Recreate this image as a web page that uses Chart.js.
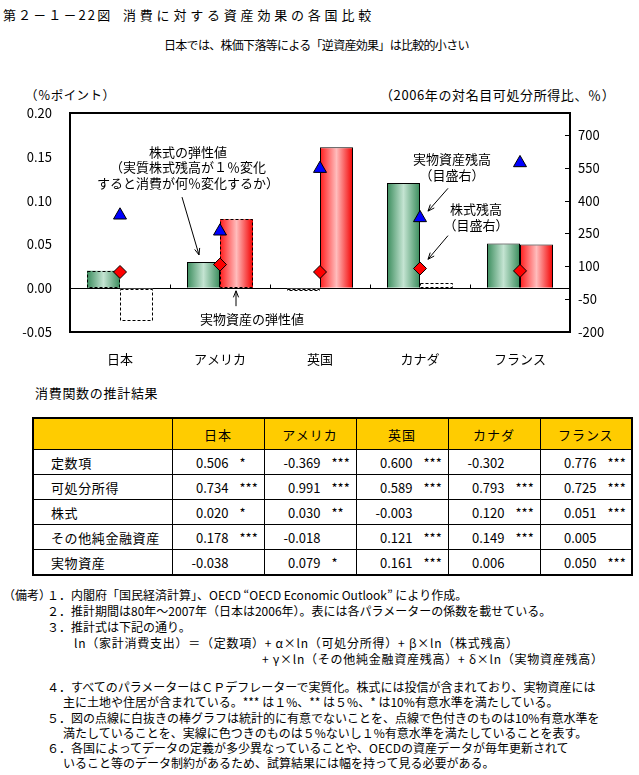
<!DOCTYPE html>
<html lang="ja">
<head>
<meta charset="utf-8">
<script src="https://cdn.jsdelivr.net/npm/chart.js@4.4.0/dist/chart.umd.min.js"></script>
<style>
  body { margin: 0; background: #fff; }
  #page { position: relative; width: 639px; height: 775px; overflow: hidden;
          font-family: "Noto Sans CJK JP", sans-serif; color: #000; }
  .t { position: absolute; white-space: nowrap; line-height: 16px; }
  #wrap { position: absolute; left: 0; top: 60px; width: 639px; height: 310px; }
  #tbl { position: absolute; left: 32px; top: 417px; border-collapse: collapse;
         border: 2px solid #000; font-size: 13px; }
  #tbl td { border: 1px solid #000; padding: 0; height: 24px; white-space: nowrap; }
  #tbl tr.head td { background: #ffcc00; height: 30px; text-align: center; letter-spacing: 1px; }
  #tbl td.lab { padding-left: 17px; letter-spacing: 0.6px; }
  #tbl .num { display: inline-block; width: 56px; text-align: right; }
  #tbl .sig { margin-left: 11px; }
  .note { font-size: 12px; }
  .formula { letter-spacing: 0.75px; }
</style>
</head>
<body>
<div id="page">
  <div class="t" style="left:3px;top:7px;font-size:13px;letter-spacing:2.1px;">第２－１－22図</div>
  <div class="t" style="left:123px;top:7px;font-size:13px;letter-spacing:3.8px;">消費に対する資産効果の各国比較</div>
  <div class="t" style="left:164px;top:37px;font-size:12px;letter-spacing:-0.7px;">日本では、株価下落等による「逆資産効果」は比較的小さい</div>
  <div class="t" style="left:25px;top:87px;font-size:12.5px;letter-spacing:0.4px;">（％ポイント）</div>
  <div class="t" style="left:380px;top:87px;font-size:13px;letter-spacing:0.6px;">（2006年の対名目可処分所得比、％）</div>

  <div id="wrap"><canvas id="chart" width="639" height="310"></canvas></div>

  <div class="t" style="left:35px;top:385px;font-size:13px;letter-spacing:0.7px;">消費関数の推計結果</div>
  <table id="tbl"></table>

  <div id="notes"></div>
</div>

<script>
const countries = ['日本', 'アメリカ', '英国', 'カナダ', 'フランス'];

// 株式の弾性値 / 実物資産の弾性値 (左目盛)
const stockElast = [0.020, 0.030, -0.003, 0.120, 0.051];
const stockSig = ['*', '**', '', '***', '***'];
const realElast = [-0.038, 0.079, 0.161, 0.006, 0.050];
const realSig = ['', '*', '***', '', '***'];

// 残高 (右目盛, 2006年の対名目可処分所得比)
const realAssetStock = [333, 260, 546, 321, 572];
const equityStock = [74, 108, 74, 90, 79];

// 推計結果の表
const rowNames = ['定数項', '可処分所得', '株式', 'その他純金融資産', '実物資産'];
const constCoef = [0.506, -0.369, 0.600, -0.302, 0.776];
const constSig = ['*', '***', '***', '', '***'];
const incomeCoef = [0.734, 0.991, 0.589, 0.793, 0.725];
const incomeSig = ['***', '***', '***', '***', '***'];
const otherCoef = [0.178, -0.018, 0.121, 0.149, 0.005];
const otherSig = ['***', '', '***', '***', ''];

// 目盛
const leftTickValues = [-0.05, 0, 0.05, 0.10, 0.15, 0.20];
const rightTickValues = [-200, -50, 100, 250, 400, 550, 700];
const leftRange = [-0.05, 0.20];
const rightRange = [-200, 800];

const FONT = '"Noto Sans CJK JP", sans-serif';

// --- 表 ---
const tbl = document.getElementById('tbl');
let html = '<colgroup><col style="width:139px">' + '<col style="width:92px">'.repeat(5) + '</colgroup>';
html += '<tr class="head"><td></td>' + countries.map(c => '<td>' + c + '</td>').join('') + '</tr>';
const rows = [
  [constCoef, constSig], [incomeCoef, incomeSig], [stockElast, stockSig],
  [otherCoef, otherSig], [realElast, realSig]
];
rows.forEach(([vals, sigs], r) => {
  html += '<tr><td class="lab">' + rowNames[r] + '</td>';
  vals.forEach((v, i) => {
    html += '<td><span class="num">' + v.toFixed(3) + '</span><span class="sig">' + sigs[i] + '</span></td>';
  });
  html += '</tr>';
});
tbl.innerHTML = html;

// --- 備考 ---
const noteLines = [
  [3, 595, '（備考）', ''],
  [47, 595, '１．内閣府「国民経済計算」、OECD “OECD Economic Outlook” により作成。', ''],
  [47, 611, '２．推計期間は80年～2007年（日本は2006年）。表には各パラメーターの係数を載せている。', ''],
  [47, 627, '３．推計式は下記の通り。', ''],
  [74, 643, 'ln（家計消費支出）＝（定数項）+ α×ln（可処分所得）+ β×ln（株式残高）', 'formula'],
  [262, 659, '+ γ×ln（その他純金融資産残高）+ δ×ln（実物資産残高）', 'formula'],
  [47, 687, '４．すべてのパラメーターはＣＰデフレーターで実質化。株式には投信が含まれており、実物資産には', ''],
  [63, 702, '主に土地や住居が含まれている。*** は１%、** は５%、* は10%有意水準を満たしている。', ''],
  [47, 718, '５．図の点線に白抜きの棒グラフは統計的に有意でないことを、点線で色付きのものは10%有意水準を', ''],
  [63, 733, '満たしていることを、実線に色つきのものは５%ないし１%有意水準を満たしていることを表す。', ''],
  [47, 748, '６．各国によってデータの定義が多少異なっていることや、OECDの資産データが毎年更新されて', ''],
  [63, 763, 'いること等のデータ制約があるため、試算結果には幅を持って見る必要がある。', '']
];
document.getElementById('notes').innerHTML = noteLines.map(([x, y, s, cls]) =>
  '<div class="t note ' + cls + '" style="left:' + x + 'px;top:' + (y - 8) + 'px;">' + s + '</div>').join('');

// --- 注記（x: カテゴリ位置, y: 左目盛の値） ---
const labels = [
  { x: 0.68, y: 0.155, text: '株式の弾性値' },
  { x: 0.68, y: 0.138, text: '（実質株式残高が１％変化' },
  { x: 0.68, y: 0.120, text: 'すると消費が何％変化するか）' },
  { x: 1.32, y: -0.035, text: '実物資産の弾性値' },
  { x: 3.32, y: 0.147, text: '実物資産残高' },
  { x: 3.32, y: 0.129, text: '（目盛右）' },
  { x: 3.56, y: 0.090, text: '株式残高' },
  { x: 3.56, y: 0.072, text: '（目盛右）' }
];
const arrows = [
  [0.62, 0.104, 0.79, 0.038],
  [1.16, -0.0205, 1.16, -0.003],
  [3.28, 0.114, 3.08, 0.088],
  [3.28, 0.060, 3.08, 0.033]
];

const shades = {
  green: ['#3a8c5c', '#c4e4d2', '#3a8c5c'],
  red: ['#ff1c1c', '#ffbcbc', '#f40000']
};

function drawArrow(ctx, x1, y1, x2, y2) {
  const a = Math.atan2(y2 - y1, x2 - x1);
  const len = 7, spread = 0.38;
  ctx.beginPath();
  ctx.moveTo(x1, y1);
  ctx.lineTo(x2, y2);
  ctx.moveTo(x2 - len * Math.cos(a - spread), y2 - len * Math.sin(a - spread));
  ctx.lineTo(x2, y2);
  ctx.lineTo(x2 - len * Math.cos(a + spread), y2 - len * Math.sin(a + spread));
  ctx.stroke();
}

const extras = {
  id: 'extras',
  beforeDatasetsDraw(chart) {
    const ctx = chart.ctx;
    chart.data.datasets.forEach((ds, di) => {
      if (ds.type !== 'bar') return;
      chart.getDatasetMeta(di).data.forEach((el, i) => {
        let bg = '#ffffff';
        if (ds.sig[i] !== '') {
          const st = shades[ds.shade];
          bg = ctx.createLinearGradient(el.x - el.width / 2, 0, el.x + el.width / 2, 0);
          bg.addColorStop(0, st[0]);
          bg.addColorStop(0.5, st[1]);
          bg.addColorStop(1, st[2]);
        }
        el.options = Object.assign({}, el.options, { backgroundColor: bg });
      });
    });
  },
  afterDatasetDraw(chart, args) {
    const ds = chart.data.datasets[args.index];
    if (ds.type !== 'bar') return;
    const ctx = chart.ctx;
    ctx.save();
    ctx.strokeStyle = '#000';
    ctx.lineWidth = 1;
    ctx.setLineDash([3, 2]);
    args.meta.data.forEach((el, i) => {
      if (ds.sig[i].length > 1) return;
      const x0 = Math.round(el.x - el.width / 2) + 0.5;
      const x1 = Math.round(el.x + el.width / 2) - 0.5;
      const y0 = Math.round(Math.min(el.y, el.base)) + 0.5;
      const y1 = Math.round(Math.max(el.y, el.base)) - 0.5;
      ctx.strokeRect(x0, y0, x1 - x0, Math.max(y1 - y0, 1));
    });
    ctx.restore();
  },
  afterDraw(chart) {
    const ctx = chart.ctx;
    const ca = chart.chartArea;
    const xs = chart.scales.x, ys = chart.scales.y, y2 = chart.scales.y2;
    ctx.save();
    // 枠
    ctx.strokeStyle = '#000';
    ctx.lineWidth = 2;
    ctx.strokeRect(ca.left, ca.top, ca.right - ca.left, ca.bottom - ca.top);
    // ゼロ線上の区切り目盛
    ctx.lineWidth = 1;
    const zero = Math.round(ys.getPixelForValue(0)) + 0.5;
    for (let i = 0; i < countries.length - 1; i++) {
      const x = Math.round((xs.getPixelForValue(i) + xs.getPixelForValue(i + 1)) / 2) + 0.5;
      ctx.beginPath();
      ctx.moveTo(x, zero);
      ctx.lineTo(x, zero - 4);
      ctx.stroke();
    }
    // 右目盛の内向き目盛線
    y2.ticks.forEach(t => {
      const y = Math.round(y2.getPixelForValue(t.value)) + 0.5;
      ctx.beginPath();
      ctx.moveTo(ca.right - 5, y);
      ctx.lineTo(ca.right, y);
      ctx.stroke();
    });
    // 注記
    ctx.fillStyle = '#000';
    ctx.font = '13px ' + FONT;
    ctx.textAlign = 'center';
    ctx.textBaseline = 'middle';
    labels.forEach(l => {
      ctx.fillText(l.text, xs.getPixelForValue(l.x), ys.getPixelForValue(l.y));
    });
    ctx.lineWidth = 1;
    arrows.forEach(([a, b, c, d]) => {
      drawArrow(ctx, xs.getPixelForValue(a), ys.getPixelForValue(b),
                xs.getPixelForValue(c), ys.getPixelForValue(d));
    });
    ctx.restore();
  }
};

const tickFont = { family: FONT, size: 13 };

new Chart(document.getElementById('chart'), {
  type: 'bar',
  data: {
    labels: countries,
    datasets: [
      {
        type: 'line', label: '実物資産残高', data: realAssetStock, yAxisID: 'y2',
        showLine: false, pointStyle: 'triangle', pointRadius: 7.5,
        pointBackgroundColor: '#0000ff', pointBorderColor: '#000', pointBorderWidth: 1, order: 0
      },
      {
        type: 'line', label: '株式残高', data: equityStock, yAxisID: 'y2',
        showLine: false, pointStyle: 'rectRot', pointRadius: 6.5,
        pointBackgroundColor: '#ff0000', pointBorderColor: '#000', pointBorderWidth: 1, order: 0
      },
      {
        type: 'bar', label: '株式の弾性値', data: stockElast, yAxisID: 'y',
        sig: stockSig, shade: 'green', backgroundColor: '#fff', borderColor: '#000',
        borderWidth: stockSig.map(s => s.length > 1 ? 1 : 0),
        barPercentage: 1, categoryPercentage: 0.66, order: 1
      },
      {
        type: 'bar', label: '実物資産の弾性値', data: realElast, yAxisID: 'y',
        sig: realSig, shade: 'red', backgroundColor: '#fff', borderColor: '#000',
        borderWidth: realSig.map(s => s.length > 1 ? 1 : 0),
        barPercentage: 1, categoryPercentage: 0.66, order: 1
      }
    ]
  },
  options: {
    responsive: false,
    animation: false,
    layout: { padding: { top: 53, left: 0, right: 0, bottom: 0 } },
    plugins: { legend: { display: false }, tooltip: { enabled: false } },
    scales: {
      x: {
        grid: { display: false }, border: { display: false },
        ticks: { font: tickFont, color: '#000', padding: 11 },
        afterFit(s) { s.height = 38; }
      },
      y: {
        position: 'left', min: leftRange[0], max: leftRange[1],
        afterBuildTicks(s) { s.ticks = leftTickValues.map(v => ({ value: v })); },
        ticks: { callback: v => v.toFixed(2), padding: 18, font: tickFont, color: '#000' },
        grid: {
          drawTicks: false, lineWidth: 1,
          color: c => (c.tick && Math.abs(c.tick.value) < 1e-9) ? '#000' : 'rgba(0,0,0,0)'
        },
        border: { display: false },
        afterFit(s) { s.width = 70; }
      },
      y2: {
        position: 'right', min: rightRange[0], max: rightRange[1],
        afterBuildTicks(s) { s.ticks = rightTickValues.map(v => ({ value: v })); },
        ticks: { callback: v => String(v), padding: 8, font: tickFont, color: '#000' },
        grid: { drawOnChartArea: false, drawTicks: false },
        border: { display: false },
        afterFit(s) { s.width = 69; }
      }
    }
  },
  plugins: [extras]
});
</script>
</body>
</html>
